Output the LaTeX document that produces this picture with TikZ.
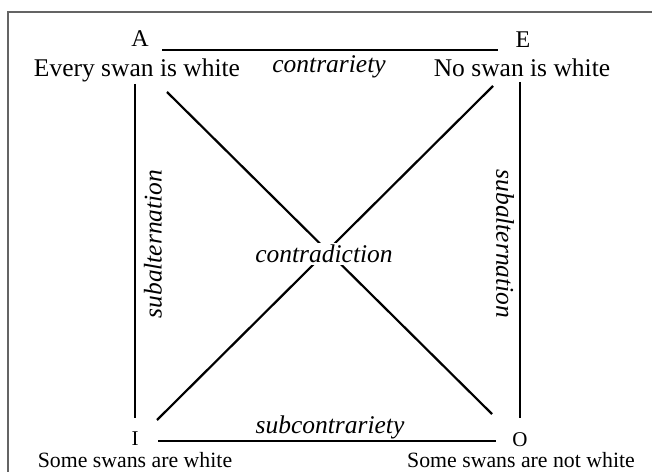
\documentclass[tikz,border=0pt]{standalone}
\usepackage{fontspec}
\setmainfont{Liberation Serif}
\usetikzlibrary{positioning}
\definecolor{framegray}{RGB}{100,100,100}

\begin{document}
\begin{tikzpicture}[
        x=1bp, y=-1bp,
        letter/.style={inner sep=0pt, anchor=base, font=\fontsize{24bp}{28bp}\selectfont},
        lowletter/.style={letter, font=\fontsize{21bp}{25bp}\selectfont},
        stmt/.style={inner sep=0pt, anchor=base, font=\fontsize{25.5bp}{30bp}\selectfont},
        lowstmt/.style={stmt, font=\fontsize{21.8bp}{26bp}\selectfont},
        rel/.style={inner sep=0pt, font=\fontsize{25.5bp}{30bp}\selectfont\itshape},
        link/.style={line width=2.2bp},
      ]
      \useasboundingbox (0,0) rectangle (652,472);
      \clip (0,0) rectangle (652,472);
      \draw[framegray, line width=1.2bp] (8,12) rectangle (670,490);

      % corners of the square
      \node[letter] (A) at (140,47) {A};
      \node[letter] (E) at (523,48) {E};
      \node[lowletter] (I) at (135,445) {I};
      \node[lowletter] (O) at (520,446) {O};
      \node[stmt] (stmtA) at (137,77) {Every swan is white};
      \node[stmt] (stmtE) at (522,77) {No swan is white};
      \node[lowstmt] (stmtI) at (135,467) {Some swans are white};
      \node[lowstmt] (stmtO) at (521,467) {Some swans are not white};

      % relations
      \draw[link] ([shift={(22,3)}]A.base) -- ([shift={(-25,2)}]E.base);
      \draw[link] ([shift={(23,-4)}]I.base) -- ([shift={(-24,-5)}]O.base);
      \draw[link, shorten <=7bp, shorten >=27bp] (stmtA.base -| I.base) -- (I.base);
      \draw[link, shorten <=5bp, shorten >=28bp] (stmtE.base -| O.base) -- (O.base);
      \draw[link] ([shift={(30,15)}]stmtA.base) -- ([shift={(-28,-32)}]O.base);
      \draw[link] ([shift={(-29,9)}]stmtE.base) -- ([shift={(22,-25)}]I.base);

      \node[rel, anchor=base] (contrariety) at (329,73) {contrariety};
      \node[rel, anchor=base] (subcontrariety) at (330,433) {subcontrariety};
      \node[rel, anchor=base, fill=white, inner sep=2bp] (contradiction) at (324,263) {contradiction};
      \node[rel, rotate=90] (subaltA) at (153,244) {subalternation};
      \node[rel, rotate=-90] (subaltE) at (505,244) {subalternation};
    \end{tikzpicture}
\end{document}
